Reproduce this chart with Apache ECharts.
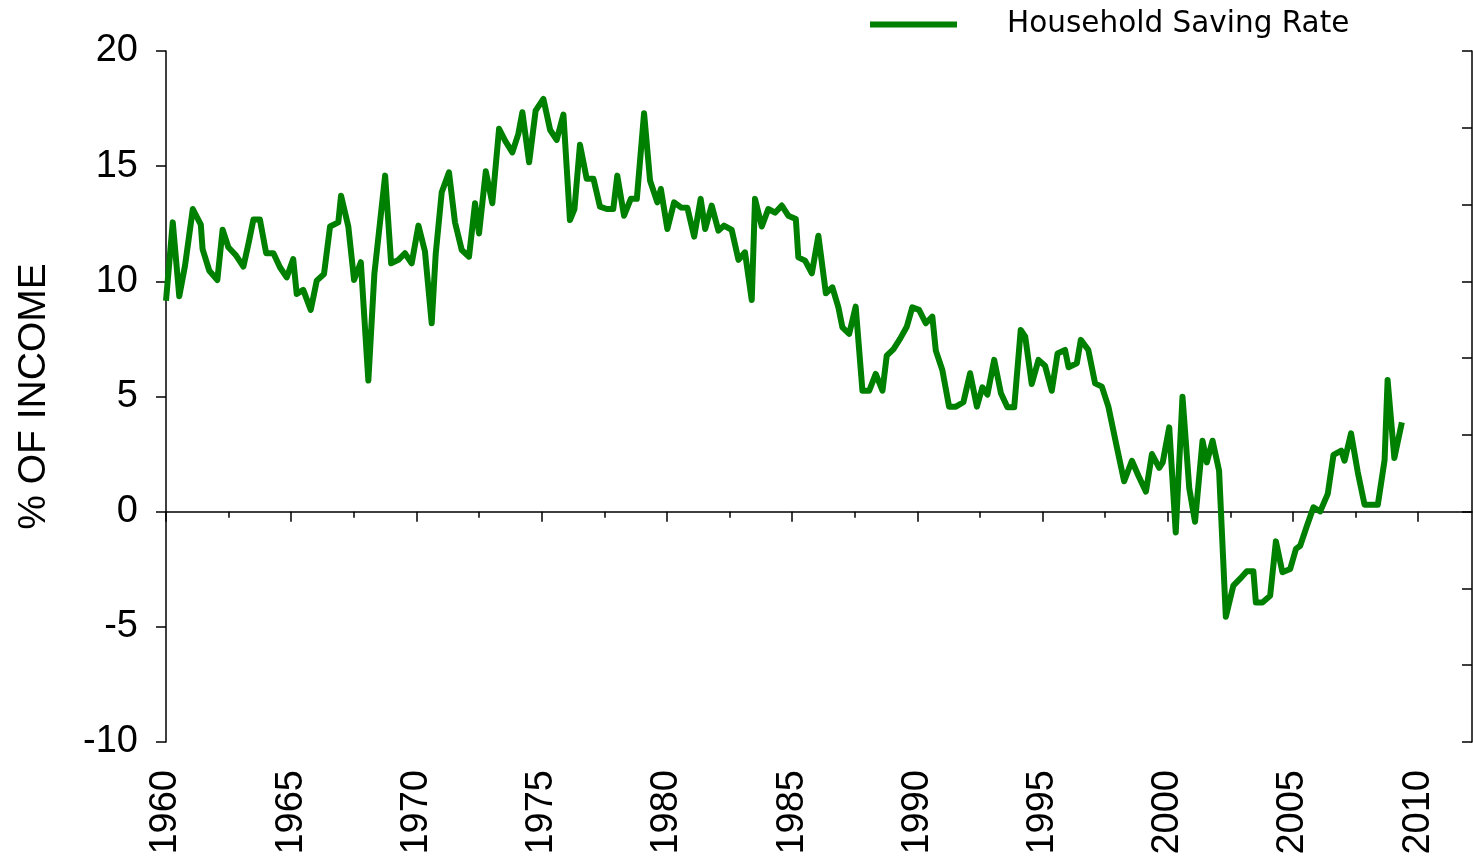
<!DOCTYPE html>
<html>
<head>
<meta charset="utf-8">
<script src="https://cdn.jsdelivr.net/npm/echarts@6/dist/echarts.min.js"></script>
<style>
  html, body { margin: 0; padding: 0; background: #fff; }
  #main { width: 1473px; height: 865px; }
</style>
</head>
<body>
<div id="main"></div>
<script>
// household saving rate, % of income (quarterly)
var dates = [1960.00,1960.27,1960.53,1960.76,1961.07,1961.39,1961.46,1961.73,1962.05,1962.26,1962.49,1962.80,
  1963.09,1963.29,1963.49,1963.75,1964.00,1964.29,1964.55,1964.82,1965.08,1965.22,1965.48,1965.78,
  1966.02,1966.31,1966.55,1966.88,1966.99,1967.28,1967.51,1967.78,1968.08,1968.32,1968.75,1968.99,
  1969.28,1969.54,1969.81,1970.08,1970.34,1970.61,1970.77,1971.01,1971.30,1971.54,1971.81,1972.10,
  1972.34,1972.50,1972.77,1973.03,1973.30,1973.54,1973.83,1974.07,1974.23,1974.50,1974.76,1975.07,
  1975.34,1975.60,1975.87,1976.13,1976.31,1976.53,1976.80,1977.07,1977.33,1977.60,1977.86,1978.02,
  1978.29,1978.56,1978.80,1979.09,1979.33,1979.62,1979.76,1980.02,1980.29,1980.56,1980.82,1981.09,
  1981.35,1981.53,1981.79,1982.06,1982.28,1982.59,1982.86,1983.12,1983.39,1983.52,1983.79,1984.05,
  1984.32,1984.59,1984.85,1985.15,1985.25,1985.52,1985.79,1986.05,1986.35,1986.61,1986.85,1987.01,
  1987.28,1987.54,1987.81,1988.08,1988.34,1988.61,1988.78,1989.05,1989.31,1989.58,1989.80,1990.07,
  1990.34,1990.60,1990.74,1991.00,1991.27,1991.54,1991.84,1992.11,1992.38,1992.60,1992.80,1993.07,
  1993.34,1993.60,1993.87,1994.13,1994.31,1994.57,1994.84,1995.10,1995.37,1995.60,1995.90,1996.04,
  1996.37,1996.53,1996.83,1997.10,1997.37,1997.63,1997.97,1998.26,1998.57,1998.83,1999.13,1999.37,
  1999.66,1999.80,2000.06,2000.32,2000.59,2000.86,2001.09,2001.39,2001.56,2001.79,2002.05,2002.32,
  2002.62,2002.90,2003.16,2003.42,2003.52,2003.78,2004.09,2004.32,2004.58,2004.89,2005.12,2005.29,
  2005.56,2005.82,2006.09,2006.39,2006.62,2006.93,2007.06,2007.32,2007.59,2007.86,2008.12,2008.39,
  2008.66,2008.78,2009.05,2009.35];
var rates = [9.16,12.56,9.35,10.68,13.14,12.46,11.40,10.46,10.06,12.24,11.48,11.12,
  10.64,11.62,12.68,12.68,11.22,11.22,10.61,10.17,10.97,9.45,9.63,8.76,
  10.03,10.32,12.38,12.56,13.72,12.38,10.06,10.83,5.69,10.32,14.59,10.78,
  10.93,11.22,10.78,12.42,11.30,8.18,11.19,13.87,14.73,12.56,11.36,11.07,
  13.39,12.08,14.78,13.39,16.62,16.11,15.60,16.40,17.34,15.17,17.41,17.92,
  16.57,16.14,17.24,12.66,13.14,15.93,14.45,14.45,13.24,13.14,13.14,14.59,
  12.85,13.58,13.58,17.30,14.37,13.43,14.01,12.27,13.43,13.21,13.19,11.94,
  13.58,12.27,13.29,12.20,12.42,12.23,10.93,11.26,9.19,13.58,12.38,13.14,
  12.98,13.29,12.85,12.71,11.04,10.90,10.35,11.98,9.48,9.74,8.87,8.00,
  7.72,8.90,5.25,5.25,5.98,5.25,6.77,7.06,7.50,8.03,8.87,8.76,
  8.18,8.47,6.99,6.15,4.56,4.56,4.75,6.01,4.56,5.40,5.08,6.59,
  5.14,4.53,4.53,7.89,7.60,5.54,6.59,6.34,5.25,6.87,7.02,6.27,
  6.44,7.46,7.02,5.57,5.43,4.56,2.79,1.32,2.21,1.56,0.87,2.50,
  1.90,2.14,3.66,-0.90,4.99,1.02,-0.44,3.08,2.14,3.08,1.78,-4.56,
  -3.21,-2.90,-2.59,-2.59,-3.94,-3.94,-3.65,-1.29,-2.63,-2.49,-1.62,-1.48,
  -0.61,0.19,0.01,0.77,2.47,2.65,2.21,3.40,1.71,0.30,0.30,0.30,
  2.24,5.72,2.33,3.88];

var yearTicks = [1960, 1965, 1970, 1975, 1980, 1985, 1990, 1995, 2000, 2005, 2010];
var halfTicks = [1962.5, 1967.5, 1972.5, 1977.5, 1982.5, 1987.5, 1992.5, 1997.5, 2002.5, 2007.5];
var seriesName = 'Household Saving Rate';

var points = dates.map(function (d, i) { return [d, rates[i]]; });

var dom = document.getElementById('main');
var myChart = echarts.init(dom);

var axisFont = 'Liberation Sans, Arial, sans-serif';
var X_MIN = 1960, X_MAX = 2012.15;

myChart.setOption({
    animation: false,
    backgroundColor: '#fff',
    grid: { left: 166, right: 1, top: 51, bottom: 123, containLabel: false },
    legend: {
        left: 870,
        top: 4,
        padding: 0,
        icon: 'rect',
        itemWidth: 87,
        itemHeight: 6,
        textStyle: {
            fontFamily: 'DejaVu Sans, Verdana, sans-serif',
            fontSize: 29.5,
            lineHeight: 32,
            color: '#000',
            padding: [9, 0, 0, 45]
        },
        data: [seriesName]
    },
    xAxis: [{
        // axis through zero, with the 5-year ticks
        type: 'value',
        min: X_MIN,
        max: X_MAX,
        position: 'bottom',
        axisLine: { show: true, onZero: true, onZeroAxisIndex: 0, lineStyle: { color: '#000', width: 1.5 } },
        axisTick: { show: true, customValues: yearTicks, length: 10, lineStyle: { color: '#000', width: 1.5 } },
        axisLabel: { show: false },
        splitLine: { show: false }
    }, {
        // half-way ticks
        type: 'value',
        min: X_MIN,
        max: X_MAX,
        position: 'bottom',
        axisLine: { show: false, onZero: true, onZeroAxisIndex: 0 },
        axisTick: { show: true, customValues: halfTicks, length: 6, lineStyle: { color: '#000', width: 1.5 } },
        axisLabel: { show: false },
        splitLine: { show: false }
    }, {
        // year labels along the bottom
        type: 'value',
        min: X_MIN,
        max: X_MAX,
        position: 'bottom',
        axisLine: { show: false, onZero: false },
        axisTick: { show: false },
        axisLabel: {
            show: true,
            customValues: yearTicks,
            rotate: 90,
            margin: 28,
            fontFamily: axisFont,
            fontSize: 38,
            color: '#000',
            formatter: function (v) { return String(Math.round(v)); }
        },
        splitLine: { show: false }
    }],
    yAxis: [{
        type: 'value',
        position: 'left',
        min: -10,
        max: 20,
        interval: 5,
        name: '% OF INCOME',
        nameLocation: 'middle',
        nameGap: 112,
        nameRotate: 90,
        nameTextStyle: { fontFamily: axisFont, fontSize: 39, color: '#000' },
        axisLine: { show: true, onZero: false, lineStyle: { color: '#000', width: 1.5 } },
        axisTick: { show: true, length: 10, lineStyle: { color: '#000', width: 1.5 } },
        axisLabel: { margin: 28, fontFamily: axisFont, fontSize: 38, color: '#000' },
        splitLine: { show: false }
    }, {
        type: 'value',
        position: 'right',
        min: -10,
        max: 20,
        interval: 10 / 3,
        axisLine: { show: true, onZero: false, lineStyle: { color: '#000', width: 1.5 } },
        axisTick: { show: true, inside: true, length: 10, lineStyle: { color: '#000', width: 1.5 } },
        axisLabel: { show: false },
        splitLine: { show: false }
    }],
    series: [{
        name: seriesName,
        type: 'line',
        xAxisIndex: 0,
        yAxisIndex: 0,
        showSymbol: false,
        symbol: 'none',
        itemStyle: { color: '#008000' },
        lineStyle: { color: '#008000', width: 6, join: 'round', cap: 'butt' },
        data: points
    }]
});

window.onresize = function () {
    myChart.resize();
};
</script>
</body>
</html>
